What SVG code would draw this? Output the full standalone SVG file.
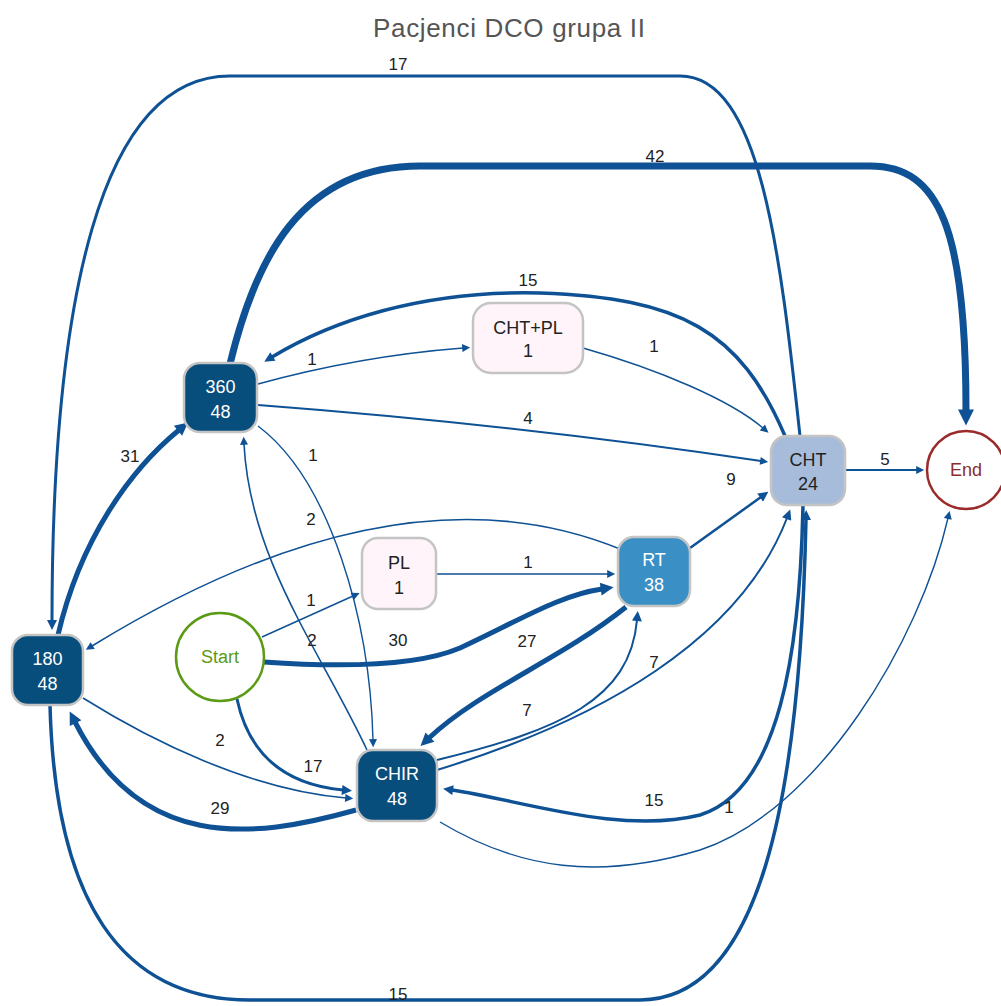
<svg xmlns="http://www.w3.org/2000/svg" width="1001" height="1006" viewBox="0 0 1001 1006">
<style>
.e{fill:none;stroke:#0e5194}
.lb{font-family:"Liberation Sans",Arial,sans-serif;font-size:17px;fill:#222;text-anchor:middle}
.nt{font-family:"Liberation Sans",Arial,sans-serif;font-size:18px;text-anchor:middle}
.dk rect{fill:#084e7d;stroke:#c4c4c4;stroke-width:2.5}
.dk text{fill:#fff}
.pk rect{fill:#fff4f9;stroke:#c4c4c4;stroke-width:2.5}
.pk text{fill:#222}
</style>
<defs>
<marker id="aS" markerUnits="userSpaceOnUse" viewBox="0 0 10 10" refX="1" refY="5" markerWidth="10" markerHeight="8" orient="auto"><path d="M0,0L10,5L0,10z" fill="#0e5194"/></marker>
<marker id="aM" markerUnits="userSpaceOnUse" viewBox="0 0 10 10" refX="1" refY="5" markerWidth="13" markerHeight="10" orient="auto"><path d="M0,0L10,5L0,10z" fill="#0e5194"/></marker>
<marker id="aL" markerUnits="userSpaceOnUse" viewBox="0 0 10 10" refX="1" refY="5" markerWidth="17" markerHeight="13" orient="auto"><path d="M0,0L10,5L0,10z" fill="#0e5194"/></marker>
<marker id="aXL" markerUnits="userSpaceOnUse" viewBox="0 0 10 10" refX="1" refY="5" markerWidth="20" markerHeight="16" orient="auto"><path d="M0,0L10,5L0,10z" fill="#0e5194"/></marker>
</defs>
<rect width="1001" height="1006" fill="#fff"/>
<text x="509" y="37" font-family="'Liberation Sans',Arial,sans-serif" font-size="26" fill="#555" text-anchor="middle" textLength="272" lengthAdjust="spacing">Pacjenci DCO grupa II</text>
<g id="edges">
<path class="e" stroke-width="7" marker-end="url(#aXL)" d="M230,364 C255,260 300,166 420,166 L870,166 C940,166 966,230 966,411"/>
<path class="e" stroke-width="3" marker-end="url(#aM)" d="M800,436 C780,250 760,76 680,76 L230,76 C100,76 52,300 52,621"/>
<path class="e" stroke-width="3.5" marker-end="url(#aM)" d="M50,705 C55,900 120,1000 250,1000 L640,1000 C760,1000 800,800 806,519"/>
<path class="e" stroke-width="3.5" marker-end="url(#aM)" d="M785,436 C740,330 680,298 540,293 C420,290 330,322 272,357"/>
<path class="e" stroke-width="1.4" marker-end="url(#aS)" d="M258,384 Q360,356 463,348"/>
<path class="e" stroke-width="1.4" marker-end="url(#aS)" d="M583,348 C660,370 730,400 763,428"/>
<path class="e" stroke-width="1.8" marker-end="url(#aS)" d="M258,405 Q520,425 761,461"/>
<path class="e" stroke-width="1.4" marker-end="url(#aS)" d="M258,426 C330,480 370,620 373,740"/>
<path class="e" stroke-width="1.6" marker-end="url(#aS)" d="M367,750 C320,650 250,560 244,444"/>
<path class="e" stroke-width="5" marker-end="url(#aL)" d="M58,635 C80,540 130,470 179,430"/>
<path class="e" stroke-width="1.6" marker-end="url(#aS)" d="M620,549 C500,500 330,500 92,646"/>
<path class="e" stroke-width="1.4" marker-end="url(#aS)" d="M262,637 L353,596"/>
<path class="e" stroke-width="1.4" marker-end="url(#aS)" d="M437,574 L608,574"/>
<path class="e" stroke-width="5" marker-end="url(#aL)" d="M264,662 C350,668 420,665 460,648 C520,620 560,595 602,589"/>
<path class="e" stroke-width="3" marker-end="url(#aM)" d="M237,699 C250,760 290,785 343,790"/>
<path class="e" stroke-width="1.6" marker-end="url(#aS)" d="M83,698 C150,740 250,790 346,798"/>
<path class="e" stroke-width="5" marker-end="url(#aL)" d="M356,810 C250,840 140,850 75,722"/>
<path class="e" stroke-width="5" marker-end="url(#aL)" d="M626,607 C560,660 480,690 429,738"/>
<path class="e" stroke-width="2" marker-end="url(#aM)" d="M437,760 C560,730 630,700 637,620"/>
<path class="e" stroke-width="2.5" marker-end="url(#aM)" d="M690,548 L761,497"/>
<path class="e" stroke-width="2" marker-end="url(#aM)" d="M437,770 C600,720 740,640 787,518"/>
<path class="e" stroke-width="3.5" marker-end="url(#aM)" d="M803,505 C800,650 780,790 700,815 C620,835 520,800 452,790"/>
<path class="e" stroke-width="1.4" marker-end="url(#aS)" d="M440,822 C520,870 600,880 700,850 C820,810 920,640 948,518"/>
<path class="e" stroke-width="2" marker-end="url(#aS)" d="M845,470 L917,470"/>
</g>
<g id="labels">
<text class="lb" x="655" y="162">42</text>
<text class="lb" x="398" y="70">17</text>
<text class="lb" x="398" y="1000">15</text>
<text class="lb" x="528" y="286">15</text>
<text class="lb" x="312" y="365">1</text>
<text class="lb" x="654" y="352">1</text>
<text class="lb" x="528" y="424">4</text>
<text class="lb" x="313" y="461">1</text>
<text class="lb" x="312" y="646">2</text>
<text class="lb" x="130" y="462">31</text>
<text class="lb" x="311" y="525">2</text>
<text class="lb" x="311" y="606">1</text>
<text class="lb" x="528" y="568">1</text>
<text class="lb" x="398" y="646">30</text>
<text class="lb" x="313" y="772">17</text>
<text class="lb" x="220" y="746">2</text>
<text class="lb" x="220" y="814">29</text>
<text class="lb" x="527" y="647">27</text>
<text class="lb" x="527" y="716">7</text>
<text class="lb" x="731" y="485">9</text>
<text class="lb" x="654" y="668">7</text>
<text class="lb" x="654" y="806">15</text>
<text class="lb" x="729" y="813">1</text>
<text class="lb" x="885" y="465">5</text>
</g>
<g id="n360" class="dk"><rect x="184" y="363" width="73" height="69" rx="16"/><text class="nt" x="220.5" y="393">360</text><text class="nt" x="220.5" y="418">48</text></g>
<g id="n180" class="dk"><rect x="12" y="635" width="71" height="70" rx="16"/><text class="nt" x="47.5" y="665">180</text><text class="nt" x="47.5" y="690">48</text></g>
<g id="nCHIR" class="dk"><rect x="357" y="750" width="80" height="71" rx="16"/><text class="nt" x="397" y="780">CHIR</text><text class="nt" x="397" y="805">48</text></g>
<g id="nCHTPL" class="pk"><rect x="473" y="303" width="110" height="70" rx="18"/><text class="nt" x="528" y="334">CHT+PL</text><text class="nt" x="528" y="357">1</text></g>
<g id="nPL" class="pk"><rect x="362" y="538" width="74" height="71" rx="16"/><text class="nt" x="399" y="569">PL</text><text class="nt" x="399" y="594">1</text></g>
<g id="nRT"><rect x="618" y="537" width="72" height="69" rx="16" fill="#3a8fc5" stroke="#c4c4c4" stroke-width="2.5"/><text class="nt" x="654" y="566" fill="#fff">RT</text><text class="nt" x="654" y="591" fill="#fff">38</text></g>
<g id="nCHT"><rect x="771" y="436" width="74" height="69" rx="16" fill="#a7bcdb" stroke="#c4c4c4" stroke-width="2.5"/><text class="nt" x="808" y="466" fill="#222">CHT</text><text class="nt" x="808" y="490" fill="#222">24</text></g>
<g id="nStart"><circle cx="220" cy="657" r="44" fill="#fff" stroke="#5b9a14" stroke-width="2.5"/><text class="nt" x="220" y="663" fill="#5b9a14" font-size="17">Start</text></g>
<g id="nEnd"><circle cx="966" cy="470" r="39" fill="#fff" stroke="#9b2b2b" stroke-width="2.5"/><text class="nt" x="966" y="476" fill="#8b2d2d" font-size="17">End</text></g>
</svg>
